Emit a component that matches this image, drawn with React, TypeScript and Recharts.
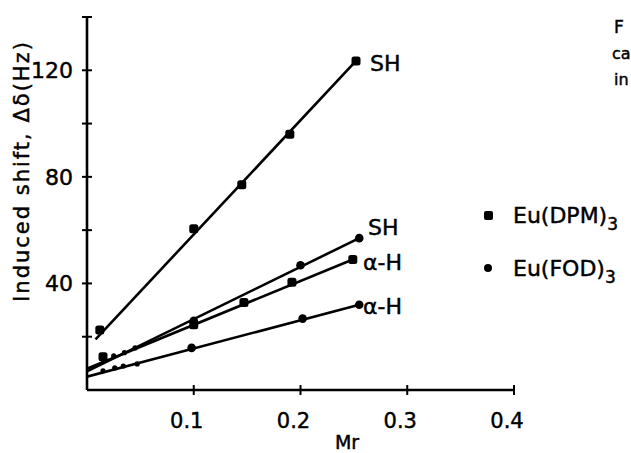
import { ScatterChart, Scatter, XAxis, YAxis, Customized } from "recharts";

const FONT = '"DejaVu Sans", sans-serif';

// x axis: mole ratio Mr, y axis: induced shift (Hz)
const xTicks = [0.1, 0.2, 0.3, 0.4];
const yTicks = [20, 40, 60, 80, 100, 120, 140];
const yLabelled = [40, 80, 120];

// Eu(DPM)3, SH
const dpmShMr = [0.012, 0.1, 0.145, 0.19, 0.252];
const dpmShHz = [22.5, 60.5, 77, 96, 123.5];
const dpmShFitMr = [0.008, 0.252];
const dpmShFitHz = [19, 123.5];

// Eu(FOD)3, SH
const fodShMr = [0.015, 0.025, 0.035, 0.045, 0.1, 0.2, 0.255];
const fodShHz = [11.5, 12.8, 14, 15.8, 26, 46.8, 57];
const fodShFitMr = [0, 0.255];
const fodShFitHz = [7, 57];

// Eu(DPM)3, alpha-H
const dpmAhMr = [0.015, 0.1, 0.147, 0.192, 0.249];
const dpmAhHz = [12.5, 24.5, 32.8, 40.4, 49];
const dpmAhFitMr = [0, 0.249];
const dpmAhFitHz = [8, 49];

// Eu(FOD)3, alpha-H
const fodAhMr = [0.015, 0.026, 0.034, 0.047, 0.098, 0.202, 0.255];
const fodAhHz = [7.2, 8.3, 9, 9.8, 15.8, 26.8, 32];
const fodAhFitMr = [0, 0.255];
const fodAhFitHz = [5, 32];

const pts = (xs: number[], ys: number[]) => xs.map((x, i) => ({ x, y: ys[i] }));

const AXIS_X = 87;
const AXIS_Y = 390;

// slightly heavier text, like the scanned figure
const txt = { fontFamily: FONT, fill: "#000", stroke: "#000", strokeWidth: 0.45 };

function Square(props: any) {
  const { cx, cy } = props;
  if (cx == null) return <g />;
  return <rect x={cx - 4.5} y={cy - 4.5} width={9} height={9} rx={2.5} fill="#000" />;
}

function Dot(props: any) {
  const { cx, cy, payload } = props;
  if (cx == null) return <g />;
  const r = payload && payload.x < 0.06 ? 2.6 : 4.3;
  return <circle cx={cx} cy={cy} r={r} fill="#000" />;
}

const Nothing = () => <g />;

function YTick(props: any) {
  const { y, payload } = props;
  const v = payload.value;
  return (
    <g>
      <line x1={AXIS_X - 5} x2={AXIS_X + 5} y1={y} y2={y} stroke="#000" strokeWidth={2} />
      {yLabelled.includes(v) && (
        <text x={AXIS_X - 14} y={y} dy="0.36em" textAnchor="end" fontSize={22} {...txt}>
          {v}
        </text>
      )}
    </g>
  );
}

function XTick(props: any) {
  const { x, payload } = props;
  return (
    <g>
      <line x1={x} x2={x} y1={AXIS_Y - 5} y2={AXIS_Y + 5} stroke="#000" strokeWidth={2} />
      <text x={x - 7} y={AXIS_Y + 38} textAnchor="middle" fontSize={21} {...txt}>
        {String(payload.value)}
      </text>
    </g>
  );
}

function Texts() {
  const lbl = { fontSize: 22, ...txt };
  return (
    <g>
      <text x={22} y={171} transform="rotate(-90 22 171)" textAnchor="middle" dy="0.35em" {...lbl} fontSize={21} letterSpacing={2}>
        Induced shift, Δδ(Hz)
      </text>
      <text x={347} y={449} textAnchor="middle" {...lbl} fontSize={19}>Mr</text>
      <text x={370} y={63} dy="0.36em" {...lbl}>SH</text>
      <text x={368} y={227} dy="0.36em" {...lbl}>SH</text>
      <text x={363} y={262} dy="0.36em" {...lbl}>α-H</text>
      <text x={363} y={306} dy="0.36em" {...lbl}>α-H</text>
      <text x={614} y={27} dy="0.36em" {...lbl} fontSize={17}>F</text>
      <text x={612} y={53} dy="0.36em" {...lbl} fontSize={16}>ca</text>
      <text x={614} y={79} dy="0.36em" {...lbl} fontSize={16}>in</text>
      {/* legend */}
      <g transform="translate(480,195)">
        <rect x={4} y={16} width={9} height={9} rx={2} fill="#000" />
        <text x={33} y={20} dy="0.36em" {...lbl}>
          Eu(DPM)<tspan dy={7} fontSize={17}>3</tspan>
        </text>
        <circle cx={8} cy={73} r={4} fill="#000" />
        <text x={33} y={73} dy="0.36em" {...lbl}>
          Eu(FOD)<tspan dy={7} fontSize={17}>3</tspan>
        </text>
      </g>
    </g>
  );
}

const lineStyle = { stroke: "#000", strokeWidth: 2.6 };

export default function App() {
  return (
    <div style={{ position: "absolute", left: 0, top: 0, width: 631, height: 453, background: "#fff" }}>
      <ScatterChart width={631} height={453} margin={{ top: 17, right: 117, left: 47, bottom: 33 }}>
        <XAxis
          type="number"
          dataKey="x"
          domain={[0, 0.4]}
          ticks={xTicks}
          height={30}
          axisLine={{ stroke: "#000", strokeWidth: 2.6 }}
          tickLine={false}
          tick={<XTick />}
          allowDataOverflow
        />
        <YAxis
          type="number"
          dataKey="y"
          domain={[0, 140]}
          ticks={yTicks}
          width={40}
          axisLine={{ stroke: "#000", strokeWidth: 2.6 }}
          tickLine={false}
          tick={<YTick />}
          allowDataOverflow
        />
        <Scatter data={pts(dpmShFitMr, dpmShFitHz)} line={lineStyle} shape={<Nothing />} legendType="none" isAnimationActive={false} />
        <Scatter data={pts(fodShFitMr, fodShFitHz)} line={lineStyle} shape={<Nothing />} legendType="none" isAnimationActive={false} />
        <Scatter data={pts(dpmAhFitMr, dpmAhFitHz)} line={lineStyle} shape={<Nothing />} legendType="none" isAnimationActive={false} />
        <Scatter data={pts(fodAhFitMr, fodAhFitHz)} line={lineStyle} shape={<Nothing />} legendType="none" isAnimationActive={false} />
        <Scatter name="Eu(DPM)3 SH" data={pts(dpmShMr, dpmShHz)} shape={<Square />} isAnimationActive={false} />
        <Scatter name="Eu(FOD)3 SH" data={pts(fodShMr, fodShHz)} shape={<Dot />} isAnimationActive={false} />
        <Scatter name="Eu(DPM)3 α-H" data={pts(dpmAhMr, dpmAhHz)} shape={<Square />} isAnimationActive={false} />
        <Scatter name="Eu(FOD)3 α-H" data={pts(fodAhMr, fodAhHz)} shape={<Dot />} isAnimationActive={false} />
        <Customized component={<Texts />} />
      </ScatterChart>
    </div>
  );
}
